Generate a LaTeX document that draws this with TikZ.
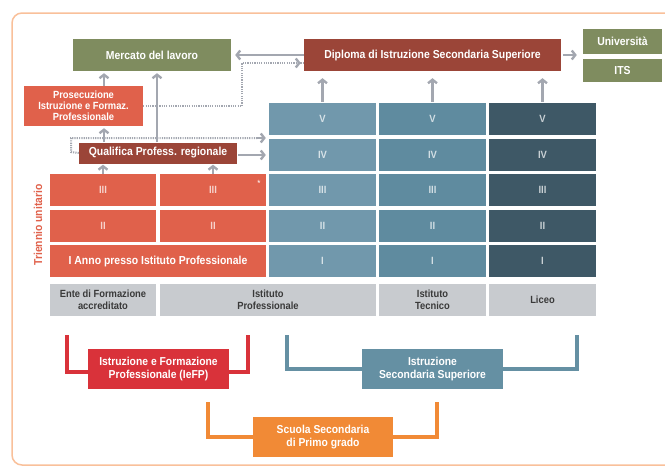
\documentclass[tikz,border=0pt]{standalone}
\usepackage{fontspec}
\setmainfont{Liberation Sans}[FakeStretch=0.9]
\usetikzlibrary{arrows.meta,calc}
\definecolor{cgreen}{HTML}{7F8C5F}
\definecolor{cdred}{HTML}{9B4538}
\definecolor{ccell}{HTML}{E0614B}
\definecolor{cred}{HTML}{D9323A}
\definecolor{cip}{HTML}{7198AC}
\definecolor{cit}{HTML}{5F8B9F}
\definecolor{cli}{HTML}{3E5866}
\definecolor{cgray}{HTML}{C8CBCF}
\definecolor{corange}{HTML}{F18A36}
\definecolor{ciss}{HTML}{6590A3}
\definecolor{carrow}{HTML}{A3A7B0}
\definecolor{cframe}{HTML}{F9C09A}
\definecolor{cdark}{HTML}{3A3A3A}
\begin{document}
\begin{tikzpicture}[x=1pt,y=-1pt,
  box/.style={inner sep=0pt, anchor=center, align=center, text=white,
    font=\bfseries\fontsize{11.6}{12}\selectfont},
  cell/.style={box, minimum width=107pt, minimum height=32pt, text=white, text opacity=0.72, font=\bfseries\fontsize{10.5}{11}\selectfont},
  gcell/.style={box, fill=cgray, minimum height=32pt, text=cdark, font=\bfseries\fontsize{10.4}{12}\selectfont},
  arr/.style={draw=carrow, line width=2.4pt, -{Straight Barb[length=3.5pt,width=9pt]}},
  dotline/.style={draw=carrow, line width=2pt, dash pattern=on 1.2pt off 1.1pt},
  brk/.style={line width=3.5pt},
  btext/.style={font=\bfseries\fontsize{11.5}{13}\selectfont}
]
\useasboundingbox (0,0) rectangle (665,466);
\begin{scope}
\clip (0,0) rectangle (665,466);
\draw[cframe, line width=1.5pt, rounded corners=10pt] (700,465) -- (12,465) -- (12,13) -- (700,13);
\end{scope}

% top row
\node[box, fill=cgreen, minimum width=158pt, minimum height=32pt] (merc) at (152,55) {Mercato del lavoro};
\node[box, fill=cdred, minimum width=257pt, minimum height=32pt] (dipl) at (432.5,55) {Diploma di Istruzione Secondaria Superiore};
\node[box, fill=cgreen, minimum width=79pt, minimum height=25pt] (univ) at (622.5,41.5) {Università};
\node[box, fill=cgreen, minimum width=79pt, minimum height=23pt] (its) at (622.5,70.5) {ITS};
\node[box, fill=ccell, minimum width=119pt, minimum height=40pt, font=\bfseries\fontsize{10.4}{10.8}\selectfont] (pros) at (83.5,106) {Prosecuzione\\Istruzione e Formaz.\\Professionale};
\node[box, fill=cdred, minimum width=158pt, minimum height=21pt] (qual) at (158,153) {Qualifica Profess. regionale};

% blue columns
\foreach \c/\x/\col in {ip/322.5/cip, it/432.5/cit, li/542.5/cli}{
  \node[cell, fill=\col] (\c V) at (\x,119) {V};
  \node[cell, fill=\col] (\c IV) at (\x,155) {IV};
  \node[cell, fill=\col] (\c III) at (\x,190) {III};
  \node[cell, fill=\col] (\c II) at (\x,225.5) {II};
  \node[cell, fill=\col] (\c I) at (\x,261) {I};
}
% red cells
\node[cell, fill=ccell, minimum width=106pt] (raIII) at (103,190) {III};
\node[cell, fill=ccell, minimum width=106pt] (rbIII) at (213,190) {III};
\node[cell, fill=ccell, minimum width=106pt] (raII) at (103,225.5) {II};
\node[cell, fill=ccell, minimum width=106pt] (rbII) at (213,225.5) {II};
\node[box, fill=ccell, minimum width=216pt, minimum height=32pt] (rI) at (158,261) {I Anno presso Istituto Professionale};
\node[text=white, font=\fontsize{9}{9}\selectfont, inner sep=0pt] (ast) at (259,183) {*};
\node[rotate=90, text=ccell, font=\bfseries\fontsize{11.5}{11.5}\selectfont, inner sep=0pt] (tri) at (38,225) {Triennio unitario};

% gray row
\node[gcell, minimum width=106pt] (gente) at (103,300) {Ente di Formazione\\accreditato};
\node[gcell, minimum width=216pt] (gip) at (268,300) {Istituto\\Professionale};
\node[gcell, minimum width=107pt] (git) at (432.5,300) {Istituto\\Tecnico};
\node[gcell, minimum width=107pt] (gli) at (542.5,300) {Liceo};

% bottom boxes
\node[box, btext, fill=cred, minimum width=141pt, minimum height=40pt] (iefp) at (158.5,369) {Istruzione e Formazione\\Professionale (IeFP)};
\node[box, btext, fill=ciss, minimum width=141pt, minimum height=40pt] (iss) at (432.5,369) {Istruzione\\Secondaria Superiore};
\node[box, btext, fill=corange, minimum width=140pt, minimum height=40pt] (sspg) at (323,437) {Scuola Secondaria\\di Primo grado};

% brackets
\coordinate (rbl) at (67,335);
\coordinate (rbr) at (248,335);
\coordinate (bbl) at (287,335);
\coordinate (bbr) at (577,335);
\coordinate (obl) at (208,402);
\coordinate (obr) at (437,402);
\draw[brk, cred] (rbl) |- ([yshift=-3pt]iefp.west);
\draw[brk, cred] ([yshift=-3pt]iefp.east) -| (rbr);
\draw[brk, ciss] (bbl) |- (iss.west);
\draw[brk, ciss] (iss.east) -| (bbr);
\draw[brk, corange] (obl) |- (sspg.west);
\draw[brk, corange] (sspg.east) -| (obr);

% arrows
\draw[arr, shorten >=4pt] (dipl.west) -- (merc.east);
\coordinate (dk1) at (242,106);
\coordinate (dk2) at (242,63);
\draw[dotline] (pros.east |- dk1) -- (dk1) -- (dk2) -- ([xshift=-1pt]dipl.west |- dk2);
\draw[arr, shorten >=3pt, shorten <=56pt, draw=carrow] (dk2) -- (dipl.west |- dk2);
\draw[arr, shorten >=2pt] (pros.north -| 104,0) -- (merc.south -| 104,0);
\draw[arr, shorten >=2pt] (qual.north -| 104,0) -- (pros.south -| 104,0);
\draw[arr, shorten >=2pt] (qual.north -| 157,0) -- (merc.south -| 157,0);
\coordinate (qk1) at (71,152);
\coordinate (qk2) at (71,138);
\draw[dotline] (qual.west) -- (qk1) -- (qk2) -- (258,138);
\draw[arr, shorten >=3pt, shorten <=185pt] (qk2) -- (ipV.west |- qk2);
\draw[arr, shorten >=3pt, shorten <=1pt] (qual.east |- ipIV.west) -- (ipIV.west);
\draw[arr, shorten >=1pt] (raIII.north) -- (qual.south -| raIII.north);
\draw[arr, shorten >=1pt] (rbIII.north) -- (qual.south -| rbIII.north);
\foreach \c in {ip,it,li}{
  \draw[arr, shorten >=7pt, shorten <=1pt] (\c V.north) -- (dipl.south -| \c V.north);
}
\draw[arr, shorten >=6pt, shorten <=2pt] (dipl.east) -- (univ.west |- dipl.east);
\end{tikzpicture}
\end{document}
